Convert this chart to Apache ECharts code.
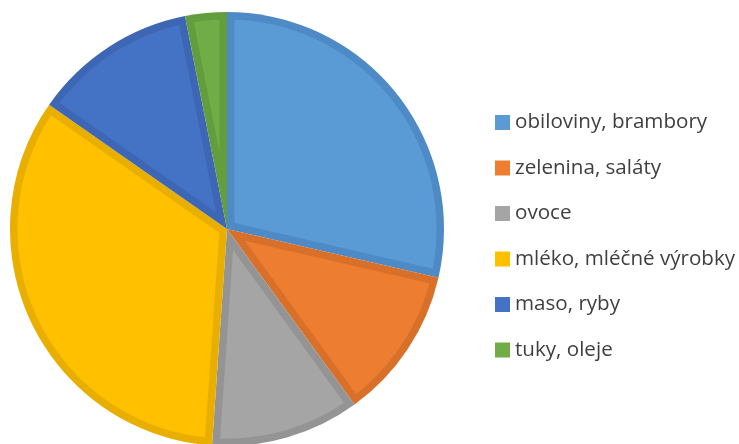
<!DOCTYPE html>
<html><head><meta charset="utf-8">
<script src="https://cdn.jsdelivr.net/npm/echarts@6/dist/echarts.min.js"></script>
<style>html,body{margin:0;padding:0;background:#fff}#c{width:739px;height:444px}</style>
</head><body><div id="c"></div>
<script>
const categories = ["obiloviny, brambory","zelenina, saláty","ovoce","mléko, mléčné výrobky","maso, ryby","tuky, oleje"];
const values = [28.6, 11.4, 11.1, 33.6, 12.2, 3.1];
const fills = ["#5B9BD5","#ED7D31","#A5A5A5","#FFC000","#4472C4","#70AD47"];
const edges = ["#4E8AC5","#D8702A","#949494","#E9AF00","#3D67B4","#639E3E"];

const total = values.reduce((a,b)=>a+b,0);
const ranges = [];
let acc = 0;
values.forEach((v,i)=>{ ranges.push([1, acc, acc+v, i]); acc += v; });

const chart = echarts.init(document.getElementById('c'), null, {renderer:'canvas'});
chart.setOption({
  animation:false,
  legend:{orient:'vertical', left:495, top:112, padding:0, itemWidth:15, itemHeight:15, itemGap:24.5,
    icon:'rect', itemStyle:{borderWidth:0},
    textStyle:{fontFamily:'Open Sans', fontSize:20.6, color:'#3F3F3F'},
    data: categories.map((n,i)=>({name:n, itemStyle:{color:fills[i], borderWidth:0}}))},
  polar:{center:[227,229], radius:217},
  radiusAxis:{min:0, max:1, show:false},
  angleAxis:{min:0, max:total, startAngle:90, clockwise:true, show:false},
  series:[
    {type:'pie', center:[227,229], radius:217, startAngle:90, clockwise:true, silent:true, z:1,
      label:{show:false}, labelLine:{show:false}, emphasis:{disabled:true},
      data: categories.map((n,i)=>({name:n, value:values[i], itemStyle:{color:edges[i]}}))},
    {type:'custom', coordinateSystem:'polar', silent:true, z:2,
      encode:{radius:0, angle:1},
      data: ranges,
      renderItem:function(params, api){
        const i = api.value(3);
        const c = api.coord([0, api.value(1)]);
        const p0 = api.coord([1, api.value(1)]);
        const p1 = api.coord([1, api.value(2)]);
        const R = Math.hypot(p0[0]-c[0], p0[1]-c[1]);
        let t0 = Math.atan2(p0[1]-c[1], p0[0]-c[0]);
        let t1 = Math.atan2(p1[1]-c[1], p1[0]-c[0]);
        while (t1 <= t0) t1 += 2*Math.PI;
        const d = 7.5, Ri = R - d;
        const half = (t1-t0)/2, mid = t0+half;
        const ad = d/Math.sin(half);
        const pts = [[c[0]+ad*Math.cos(mid), c[1]+ad*Math.sin(mid)]];
        const s0 = t0 + Math.asin(d/Ri), s1 = t1 - Math.asin(d/Ri);
        const n = 80;
        for (let k=0;k<=n;k++){ const a = s0+(s1-s0)*k/n; pts.push([c[0]+Ri*Math.cos(a), c[1]+Ri*Math.sin(a)]); }
        return {type:'polygon', shape:{points:pts}, style:{fill:fills[i]}};
      }}
  ]
});
</script></body></html>
